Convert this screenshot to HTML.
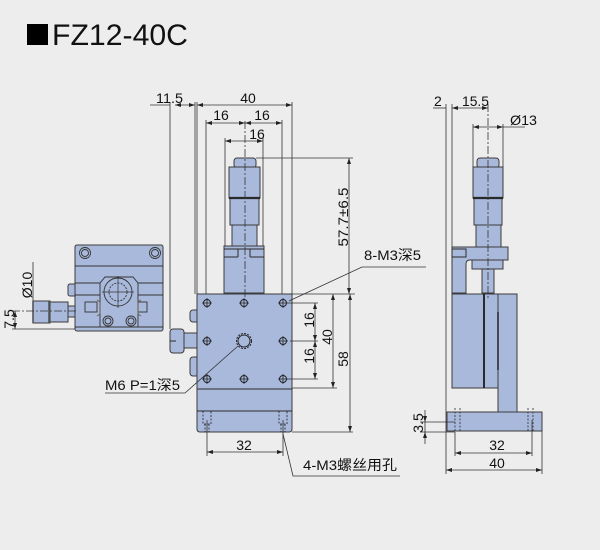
<!DOCTYPE html>
<html><head><meta charset="utf-8"><style>
html,body{margin:0;padding:0;background:#ededed;}
svg{display:block;}
text{font-family:"Liberation Sans","Noto Sans CJK SC",sans-serif;fill:#111;font-size:14px;}
</style></head><body>
<svg width="600" height="550" viewBox="0 0 600 550" xmlns="http://www.w3.org/2000/svg">
<defs>
<marker id="a" markerWidth="6" markerHeight="4" refX="6" refY="2" orient="auto-start-reverse" markerUnits="userSpaceOnUse"><path d="M0,0 L6,2 L0,4z" fill="#222"/></marker>
</defs>
<rect width="600" height="550" fill="#ededed"/>

<!-- Title -->
<rect x="27" y="24" width="21" height="21" fill="#000"/>
<text x="52" y="45" style="font-size:30px" textLength="136" lengthAdjust="spacingAndGlyphs">FZ12-40C</text>

<!-- ================= FRONT VIEW ================= -->
<g fill="#a9b9dc" stroke="#3a3a3a" stroke-width="1">
  <!-- side knobs -->
  <rect x="190" y="310" width="10" height="12" rx="3"/>
  <rect x="190" y="357" width="10" height="19" rx="3"/>
  <rect x="183" y="333" width="14" height="15"/>
  <rect x="170" y="329" width="14" height="24" rx="3"/>
  <!-- micrometer -->
  <rect x="234" y="158" width="22" height="10" rx="3"/>
  <rect x="229" y="167" width="31" height="31"/>
  <rect x="230" y="198" width="29" height="27"/>
  <rect x="232" y="225" width="25" height="21"/>
  <rect x="224" y="246" width="40" height="47"/>
  <!-- block -->
  <path d="M197,294 H292 V429 Q292,432 289,432 H200 Q197,432 197,429 Z"/>
</g>
<g stroke="#2a2a2a" stroke-width="1" fill="none">
  <line x1="170" y1="341" x2="176" y2="341"/>
  <line x1="229" y1="198" x2="260" y2="198" stroke-width="2.2"/>
  <line x1="224" y1="249" x2="264" y2="249"/>
  <line x1="238" y1="249" x2="238" y2="257"/>
  <line x1="250" y1="249" x2="250" y2="257"/>
  <line x1="224" y1="257" x2="238" y2="257"/>
  <line x1="250" y1="257" x2="264" y2="257"/>
  <line x1="197" y1="389" x2="292" y2="389"/>
  <line x1="197" y1="411" x2="292" y2="411"/>
</g>
<!-- holes -->
<g stroke="#222" stroke-width="1" fill="none">
  <circle cx="207" cy="303" r="3.5"/><circle cx="244" cy="303" r="3.5"/><circle cx="283" cy="303" r="3.5"/>
  <circle cx="207" cy="341" r="3.5"/><circle cx="283" cy="341" r="3.5"/>
  <circle cx="207" cy="379" r="3.5"/><circle cx="244" cy="379" r="3.5"/><circle cx="283" cy="379" r="3.5"/>
  <path d="M202,303h10M207,298v10M239,303h10M244,298v10M278,303h10M283,298v10M202,341h10M207,336v10M278,341h10M283,336v10M202,379h10M207,374v10M239,379h10M244,374v10M278,379h10M283,374v10" stroke-width="0.8"/>
  <circle cx="244" cy="341" r="7.5" stroke-dasharray="2,1.2"/>
  <circle cx="244" cy="341" r="6"/>
  <!-- hidden mounting holes -->
  <path d="M203,411V424H211V411M205,424V432M209,424V432M279,411V424H287V411M281,424V432M285,424V432" stroke-dasharray="2,1.5" stroke-width="0.8"/>
</g>
<!-- center line -->
<line x1="245" y1="121" x2="245" y2="300" stroke="#333" stroke-width="0.8" stroke-dasharray="8,2,2,2"/>

<!-- front dims -->
<g stroke="#333" stroke-width="0.8" fill="none">
  <line x1="170" y1="102" x2="170" y2="329"/>
  <line x1="195" y1="102" x2="195" y2="294"/>
  <line x1="197" y1="102" x2="197" y2="294"/>
  <line x1="292" y1="102" x2="292" y2="294"/>
  <line x1="206" y1="120" x2="206" y2="294"/>
  <line x1="282" y1="120" x2="282" y2="294"/>
  <line x1="225" y1="138" x2="225" y2="246"/>
  <line x1="263" y1="138" x2="263" y2="246"/>
  <line x1="150" y1="105" x2="170" y2="105"/>
  <line x1="175" y1="105" x2="195" y2="105" marker-start="url(#a)" marker-end="url(#a)"/>
  <line x1="197" y1="105" x2="292" y2="105" marker-start="url(#a)" marker-end="url(#a)"/>
  <line x1="206" y1="123" x2="245" y2="123" marker-start="url(#a)" marker-end="url(#a)"/>
  <line x1="245" y1="123" x2="282" y2="123" marker-start="url(#a)" marker-end="url(#a)"/>
  <line x1="225" y1="141" x2="263" y2="141" marker-start="url(#a)" marker-end="url(#a)"/>
  <!-- 57.7 -->
  <line x1="256" y1="158" x2="353" y2="158"/>
  <line x1="349" y1="158" x2="349" y2="294" marker-start="url(#a)" marker-end="url(#a)"/>
  <line x1="292" y1="294" x2="355" y2="294"/>
  <!-- 16/16/40/58 -->
  <line x1="288" y1="303" x2="318" y2="303"/>
  <line x1="290" y1="341" x2="318" y2="341"/>
  <line x1="288" y1="379" x2="318" y2="379"/>
  <line x1="315" y1="303" x2="315" y2="341" marker-start="url(#a)" marker-end="url(#a)"/>
  <line x1="315" y1="341" x2="315" y2="379" marker-start="url(#a)" marker-end="url(#a)"/>
  <line x1="292" y1="388" x2="337" y2="388"/>
  <line x1="333" y1="294" x2="333" y2="388" marker-start="url(#a)" marker-end="url(#a)"/>
  <line x1="292" y1="432" x2="353" y2="432"/>
  <line x1="350" y1="294" x2="350" y2="432" marker-start="url(#a)" marker-end="url(#a)"/>
  <!-- leaders -->
  <polyline points="289,301 362,267 426,267"/>
  <polyline points="105,393 185,393 238,346"/>
  <!-- 32 -->
  <line x1="207" y1="420" x2="207" y2="456"/>
  <line x1="283" y1="420" x2="283" y2="456"/>
  <line x1="207" y1="452" x2="283" y2="452" marker-start="url(#a)" marker-end="url(#a)"/>
  <polyline points="283,434 293,476 400,476"/>
</g>
<text x="156" y="103" textLength="27" lengthAdjust="spacingAndGlyphs">11.5</text>
<text x="248" y="103" text-anchor="middle">40</text>
<text x="221" y="120" text-anchor="middle">16</text>
<text x="262" y="120" text-anchor="middle">16</text>
<text x="257" y="139" text-anchor="middle">16</text>
<text transform="translate(348,217) rotate(-90)" text-anchor="middle" textLength="59" lengthAdjust="spacingAndGlyphs">57.7±6.5</text>
<text transform="translate(314,320) rotate(-90)" text-anchor="middle">16</text>
<text transform="translate(314,356) rotate(-90)" text-anchor="middle">16</text>
<text transform="translate(332,337) rotate(-90)" text-anchor="middle">40</text>
<text transform="translate(348,359) rotate(-90)" text-anchor="middle">58</text>
<text x="364" y="260" textLength="57" lengthAdjust="spacingAndGlyphs">8-M3深5</text>
<text x="105" y="390" textLength="75" lengthAdjust="spacingAndGlyphs">M6 P=1深5</text>
<text x="244" y="450" text-anchor="middle">32</text>
<text x="303" y="470" textLength="94" lengthAdjust="spacingAndGlyphs">4-M3螺丝用孔</text>

<!-- ================= LEFT SIDE VIEW ================= -->
<g fill="#a9b9dc" stroke="#3a3a3a" stroke-width="1">
  <rect x="68" y="284" width="9" height="12" rx="2"/>
  <rect x="33" y="301" width="17" height="22"/>
  <rect x="50" y="302" width="18" height="20"/>
  <rect x="68" y="306" width="8" height="11"/>
  <rect x="75" y="245" width="88" height="86" rx="2"/>
</g>
<g stroke="#333" stroke-width="0.9" fill="none">
  <line x1="33" y1="301" x2="33" y2="323" stroke="#555" stroke-width="1.6"/>
  <line x1="49" y1="301" x2="49" y2="323" stroke="#555" stroke-width="1.6"/>
  <line x1="75" y1="266" x2="163" y2="266"/>
  <path d="M75,283 H100 L105,277 H133 L138,283 H163"/>
  <path d="M75,295 H100 M138,295 H163"/>
  <line x1="100" y1="283" x2="100" y2="327"/>
  <line x1="138" y1="283" x2="138" y2="327"/>
  <line x1="75" y1="327" x2="163" y2="327"/>
  <circle cx="85" cy="253" r="5.5"/><circle cx="85" cy="253" r="3.5"/>
  <circle cx="155" cy="253" r="5.5"/><circle cx="155" cy="253" r="3.5"/>
  <circle cx="118" cy="292" r="14"/>
  <circle cx="118" cy="292" r="9" stroke-dasharray="2,1.2"/>
  <path d="M102,292h32M118,276v32" stroke-width="0.7"/>
  <rect x="85" y="302" width="12" height="10"/>
  <rect x="138" y="302" width="9" height="10"/>
  <path d="M97,300 L100,302 V314 L97,316 M141,300 L138,302 V314 L141,316" stroke="#6a6040"/>
  <circle cx="108" cy="321" r="5"/><circle cx="108" cy="321" r="3"/>
  <circle cx="131" cy="321" r="5"/><circle cx="131" cy="321" r="3"/>
</g>
<g stroke="#333" stroke-width="0.8" fill="none">
  <line x1="33" y1="262" x2="33" y2="301"/>
  <line x1="12" y1="311" x2="76" y2="311" stroke-dasharray="8,2,2,2"/>
  <line x1="12" y1="329" x2="75" y2="329"/>
  <line x1="15" y1="311" x2="15" y2="329" marker-start="url(#a)" marker-end="url(#a)"/>
</g>
<text transform="translate(32,285) rotate(-90)" text-anchor="middle">Ø10</text>
<text transform="translate(14,319) rotate(-90)" text-anchor="middle">7.5</text>

<!-- ================= RIGHT SIDE VIEW ================= -->
<g fill="#a9b9dc" stroke="#3a3a3a" stroke-width="1">
  <rect x="477" y="158" width="22" height="10" rx="3"/>
  <rect x="473" y="167" width="30" height="31"/>
  <rect x="474" y="198" width="28" height="27"/>
  <rect x="476" y="225" width="25" height="22"/>
  <rect x="482" y="268" width="12" height="25"/>
  <rect x="472" y="260" width="31" height="9"/>
  <path d="M452,247 H508 V260 H470 Q466,260 466,264 V293 H452 Z"/>
  <rect x="498" y="294" width="19" height="118"/>
  <rect x="452" y="294" width="46" height="94"/>
  <rect x="447" y="412" width="95" height="19"/>
</g>
<g stroke="#2a2a2a" stroke-width="1" fill="none">
  <line x1="473" y1="198" x2="503" y2="198" stroke-width="2.2"/>
  <rect x="452" y="249" width="14" height="8"/>
  <line x1="484" y1="294" x2="484" y2="388" stroke-width="2"/>
  <line x1="498" y1="312" x2="498" y2="370" stroke-width="1.6"/>
  <path d="M455,408V432M460,408V432M528,408V432M533,408V432" stroke-dasharray="2,1.5" stroke-width="0.8"/>
</g>
<line x1="488" y1="104" x2="488" y2="300" stroke="#333" stroke-width="0.8" stroke-dasharray="8,2,2,2"/>
<g stroke="#333" stroke-width="0.8" fill="none">
  <line x1="446" y1="104" x2="446" y2="474"/>
  <line x1="452" y1="104" x2="452" y2="247"/>
  <line x1="433" y1="108" x2="446" y2="108"/>
  <line x1="452" y1="108" x2="488" y2="108" marker-start="url(#a)" marker-end="url(#a)"/>
  <line x1="473" y1="124" x2="473" y2="167"/>
  <line x1="503" y1="124" x2="503" y2="167"/>
  <line x1="473" y1="127" x2="503" y2="127" marker-start="url(#a)" marker-end="url(#a)"/>
  <line x1="503" y1="127" x2="525" y2="127"/>
  <!-- 3.5 -->
  <line x1="420" y1="422" x2="455" y2="422"/>
  <line x1="420" y1="432" x2="455" y2="432"/>
  <line x1="425" y1="410" x2="425" y2="422" marker-end="url(#a)"/>
  <line x1="425" y1="444" x2="425" y2="432" marker-end="url(#a)"/>
  <line x1="425" y1="422" x2="425" y2="432"/>
  <!-- 32 / 40 -->
  <line x1="455" y1="432" x2="455" y2="456"/>
  <line x1="532" y1="420" x2="532" y2="456"/>
  <line x1="455" y1="453" x2="532" y2="453" marker-start="url(#a)" marker-end="url(#a)"/>
  <line x1="542" y1="431" x2="542" y2="474"/>
  <line x1="446" y1="470" x2="542" y2="470" marker-start="url(#a)" marker-end="url(#a)"/>
</g>
<text x="434" y="106">2</text>
<text x="462" y="106" textLength="27" lengthAdjust="spacingAndGlyphs">15.5</text>
<text x="510" y="125" textLength="27" lengthAdjust="spacingAndGlyphs">Ø13</text>
<text transform="translate(423,423) rotate(-90)" text-anchor="middle">3.5</text>
<text x="497" y="450" text-anchor="middle">32</text>
<text x="497" y="468" text-anchor="middle">40</text>
</svg>
</body></html>
